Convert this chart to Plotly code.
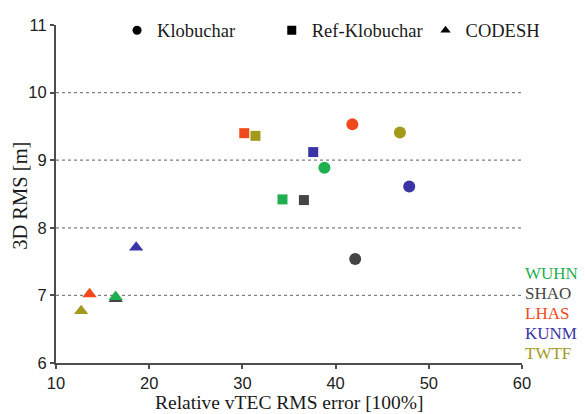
import plotly.graph_objects as go

# Stations and their colours
stations = ["WUHN", "SHAO", "LHAS", "KUNM", "TWTF"]
station_colors = ["#1fae50", "#444444", "#f04a1c", "#3b34a8", "#a39a1c"]

# Relative vTEC RMS error [%] and 3D RMS [m] per model
klob_x = [38.8, 42.1, 41.8, 47.9, 46.9]
klob_y = [8.89, 7.54, 9.53, 8.61, 9.41]

ref_x = [34.3, 36.6, 30.2, 37.6, 31.4]
ref_y = [8.42, 8.41, 9.40, 9.12, 9.36]

codesh_x = [16.4, 16.4, 13.6, 18.6, 12.7]
codesh_y = [6.98, 6.95, 7.02, 7.71, 6.77]

models = ["Klobuchar", "Ref-Klobuchar", "CODESH"]
x_ticks = [10, 20, 30, 40, 50, 60]
y_ticks = [6, 7, 8, 9, 10, 11]
grid_levels = [7, 8, 9, 10]

serif = "Liberation Serif, Times New Roman, serif"
sans = "Liberation Sans, Arial, sans-serif"

fig = go.Figure()

# CODESH drawn first; SHAO before WUHN so the green triangle sits on top
draw_order = [1, 0, 2, 3, 4]
for xs, ys, sym, size in [(codesh_x, codesh_y, "triangle-up", 12.5),
                          (ref_x, ref_y, "square", 10),
                          (klob_x, klob_y, "circle", 12)]:
    for i in draw_order:
        fig.add_trace(go.Scatter(
            x=[xs[i]], y=[ys[i]], mode="markers",
            marker=dict(symbol=sym, size=size, color=station_colors[i],
                        line=dict(width=0)),
            showlegend=False, hoverinfo="x+y"))

# One small legend per model (black symbols), laid out in a row
legend_ids = ["legend", "legend2", "legend3"]
legend_x = [0.131, 0.463, 0.793]
for name, sym, lid in zip(models, ["circle", "square", "triangle-up"], legend_ids):
    fig.add_trace(go.Scatter(
        x=[None], y=[None], mode="markers", name=name, legend=lid,
        marker=dict(symbol=sym, size=9, color="black")))

legend_style = dict(orientation="h", y=0.983, xanchor="left", yanchor="middle",
                    font=dict(family=serif, size=18.5, color="#1a1a1a"),
                    bgcolor="rgba(0,0,0,0)", borderwidth=0)
legend_layout = {lid: dict(x=lx, **legend_style) for lid, lx in zip(legend_ids, legend_x)}

# Dotted horizontal reference lines
for g in grid_levels:
    fig.add_shape(type="line", xref="paper", yref="y", x0=0, x1=1, y0=g, y1=g,
                  line=dict(color="#808080", width=1.2, dash="dot"), layer="below")

# Station colour key on the right
for k, (st, col) in enumerate(zip(stations, station_colors)):
    fig.add_annotation(xref="paper", yref="paper", x=1.002, y=0.2655 - k * 0.0597,
                       text=st, showarrow=False, xanchor="left", yanchor="middle",
                       font=dict(family=serif, size=17, color=col))

# Axis titles
fig.add_annotation(xref="paper", yref="paper", x=0.5, y=-0.118,
                   text="Relative vTEC RMS error [100%]", showarrow=False,
                   xanchor="center", yanchor="middle",
                   font=dict(family=serif, size=19.5, color="#1a1a1a"))
fig.add_annotation(xref="paper", yref="paper", x=-0.077, y=0.495,
                   text="3D RMS [m]", showarrow=False, textangle=-90,
                   xanchor="center", yanchor="middle",
                   font=dict(family=serif, size=20.5, color="#1a1a1a"))

axis_common = dict(showgrid=False, zeroline=False, automargin=False,
                   showline=True, linecolor="#4d4d4d", linewidth=2,
                   ticks="outside", ticklen=4, tickwidth=1.5, tickcolor="#4d4d4d",
                   tickfont=dict(family=sans, size=16.5, color="#222222"))

fig.update_layout(
    width=585, height=414,
    margin=dict(l=56, r=63, t=18, b=51),
    paper_bgcolor="white", plot_bgcolor="white",
    showlegend=True,
    **legend_layout,
    xaxis=dict(range=[10, 60], tickvals=x_ticks, **axis_common),
    yaxis=dict(range=[6, 11], tickvals=y_ticks, **axis_common),
)

fig.write_html("out.html")
